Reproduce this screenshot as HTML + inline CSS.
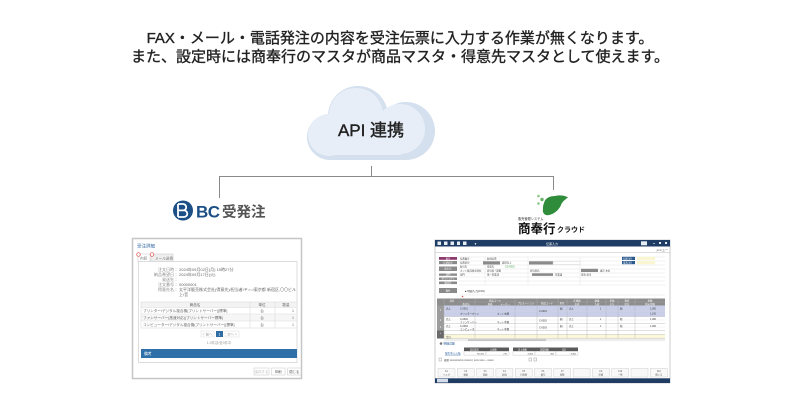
<!DOCTYPE html>
<html><head><meta charset="utf-8">
<style>
html,body{margin:0;padding:0;background:#fff;}
svg{display:block;}
text{font-family:"Liberation Sans","Noto Sans CJK JP",sans-serif;}
</style></head>
<body>
<svg width="790" height="400" viewBox="0 0 790 400" xmlns="http://www.w3.org/2000/svg">
<rect width="790" height="400" fill="#fff"/>

<!-- Title -->
<text x="400" y="43" font-size="15" fill="#222" stroke="#222" stroke-width="0.35" text-anchor="middle">FAX・メール・電話発注の内容を受注伝票に入力する作業が無くなります。</text>
<text x="400" y="61.5" font-size="15" fill="#222" stroke="#222" stroke-width="0.35" text-anchor="middle">また、設定時には商奉行のマスタが商品マスタ・得意先マスタとして使えます。</text>

<!-- Cloud -->
<g fill="#d4e0ee">
<circle cx="330" cy="137" r="23"/><circle cx="358" cy="116" r="30"/><circle cx="406" cy="131" r="29"/><rect x="330" y="128" width="76" height="32"/>
</g>
<g fill="#e7eef7">
<circle cx="329" cy="135" r="21"/><circle cx="356" cy="115" r="27"/><circle cx="400" cy="129" r="25"/><rect x="329" y="122" width="72" height="33"/>
</g>
<text x="371" y="136" font-size="17" fill="#222" stroke="#222" stroke-width="0.4" text-anchor="middle">API 連携</text>

<!-- Connectors -->
<path d="M371.5,166 V176.5 M219.5,176.5 H553.5 M219.5,176 V198 M553.5,176 V190" stroke="#8a8a8a" stroke-width="1" fill="none"/>

<!-- BC logo -->
<circle cx="183" cy="210.5" r="10" fill="#1c4f86"/>
<path d="M178,204 v13 M178,204 h5 a3.2,3.2 0 0 1 0,6.4 h-5 M178,210.4 h6 a3.3,3.3 0 0 1 0,6.6 h-6" stroke="#fff" stroke-width="1.8" fill="none"/>
<text x="196" y="217.5" font-size="17" font-weight="bold" fill="#1c4f86" letter-spacing="-0.5">BC</text>
<text x="222" y="217" font-size="14.5" font-weight="bold" fill="#555">受発注</text>

<!-- Shobugyo logo -->
<circle cx="538.5" cy="196" r="1.3" fill="#8cc48a"/>
<circle cx="542" cy="199.5" r="1.7" fill="#6db36a"/>
<circle cx="538.5" cy="203.5" r="1.3" fill="#8cc48a"/>
<path d="M544,203 C545,198 550,196 555,196 C559,195 564,195 568,197.5 C565,199.5 562,202 561,205 C559,210 554,214 549,215 C545,216 542,213 543,209 C543,207 543,205 544,203 Z" fill="#2f8c3a"/>
<text x="518" y="220" font-size="3.2" fill="#333">販売管理システム</text>
<text x="518" y="233" font-size="12.5" font-weight="bold" fill="#111">商奉行</text>
<text x="557" y="232" font-size="7" font-weight="bold" fill="#111">クラウド</text>

<!-- Left screenshot -->
<rect x="132.5" y="238.5" width="169" height="140" fill="#fff" stroke="#c6c6c6" stroke-width="1.5"/>
<text x="137" y="247.5" font-size="4.5" fill="#3a6ea5">受注詳細</text>
<rect x="151" y="254" width="22" height="8" fill="#eeeeee" stroke="#cfcfcf" stroke-width="0.6"/>
<text x="155" y="259.5" font-size="3.6" fill="#777">メール送信</text>
<rect x="138" y="254" width="12" height="8" fill="#fff" stroke="#cfcfcf" stroke-width="0.6"/>
<text x="140" y="259.5" font-size="3.6" fill="#777">内訳</text>
<circle cx="138.5" cy="254.5" r="1.8" fill="#fff" stroke="#e24a4a" stroke-width="0.7"/>
<circle cx="152" cy="254.5" r="1.8" fill="#fff" stroke="#e24a4a" stroke-width="0.7"/>
<rect x="138.5" y="261.5" width="158.5" height="101" fill="#fff" stroke="#cfcfcf" stroke-width="0.7"/>
<g font-size="4" fill="#888" text-anchor="end">
<text x="178" y="270.8">注文日時：</text>
<text x="178" y="275.8">納品希望日：</text>
<text x="178" y="280.8">発送先：</text>
<text x="178" y="285.8">注文番号：</text>
<text x="178" y="290.8">得意先名：</text>
</g>
<g font-size="4" fill="#666">
<text x="179" y="270.8">2024年09月02日(月) 15時27分</text>
<text x="179" y="275.8">2024年09月17日(火)</text>
<text x="179" y="285.8">00000001</text>
<text x="179" y="290.8">太平洋販売株式会社(得意先)/担当者/〒○○/東京都 新宿区,〇〇ビル</text>
<text x="179" y="295.8">上/音</text>
</g>
<!-- table -->
<rect x="141" y="302" width="156" height="5.5" fill="#f3f3f3"/>
<rect x="141" y="314" width="156" height="7" fill="#f6f6f6"/>
<g stroke="#dcdcdc" stroke-width="0.6" fill="none">
<rect x="141" y="302" width="156" height="26"/>
<path d="M141,307.5 H297 M141,314 H297 M141,321 H297 M250,302 V328 M275,302 V328"/>
</g>
<g font-size="3.6" fill="#666">
<text x="195" y="306" text-anchor="middle">商品名</text>
<text x="262" y="306" text-anchor="middle">単位</text>
<text x="286" y="306" text-anchor="middle">数量</text>
<text x="143" y="312">プリンター/デジタル複合機(プリントサーバー)[標準]</text>
<text x="143" y="319">ファンサーバー(高速対応)(プリントサーバー標準)</text>
<text x="143" y="326">コンピューター/デジタル複合機(プリントサーバー)[標準]</text>
<text x="262" y="312" text-anchor="middle">台</text>
<text x="262" y="319" text-anchor="middle">台</text>
<text x="262" y="326" text-anchor="middle">台</text>
<text x="294" y="312" text-anchor="end">1</text>
<text x="294" y="319" text-anchor="end">1</text>
<text x="294" y="326" text-anchor="end">1</text>
</g>
<!-- pagination -->
<rect x="201" y="331" width="13" height="6" fill="#fff" stroke="#ddd" stroke-width="0.5"/>
<rect x="216" y="331" width="7" height="6" fill="#2e6da4"/>
<rect x="225" y="331" width="14" height="6" fill="#fff" stroke="#ddd" stroke-width="0.5"/>
<g font-size="3.4" fill="#999">
<text x="207.5" y="335.3" text-anchor="middle">&lt; 前へ</text>
<text x="232" y="335.3" text-anchor="middle">次へ &gt;</text>
<text x="219" y="344" text-anchor="middle">1-3件目/全3件中</text>
</g>
<text x="219.5" y="335.3" font-size="3.4" fill="#fff" text-anchor="middle">1</text>
<rect x="141" y="349" width="156" height="9" fill="#2f70a8"/>
<text x="144" y="354.8" font-size="3.8" fill="#fff">備考</text>
<!-- buttons -->
<g fill="#fff" stroke="#cfcfcf" stroke-width="0.6">
<rect x="254" y="368" width="15" height="7"/><rect x="271.5" y="368" width="13.5" height="7"/><rect x="287.5" y="368" width="13.5" height="7"/>
</g>
<g font-size="3.4" text-anchor="middle">
<text x="261.5" y="372.8" fill="#bbb">保存する</text>
<text x="278.2" y="372.8" fill="#555">印刷</text>
<text x="294.2" y="372.8" fill="#555">閉じる</text>
</g>

<!-- Right screenshot -->
<rect x="435" y="240" width="235" height="143" fill="#fff" stroke="#c2c2c2" stroke-width="0.8"/>
<rect x="435" y="240" width="235" height="6.5" fill="#1f3c64"/>
<g fill="#e6ecf4">
<rect x="437.5" y="241.5" width="3.5" height="3.5"/><rect x="444" y="241.5" width="3.5" height="3.5"/><rect x="450.5" y="241.5" width="3.5" height="3.5"/><rect x="457" y="241.5" width="3" height="3.5"/><rect x="463" y="241.5" width="3.5" height="3.5"/>
<rect x="641" y="241.3" width="6" height="4"/>
<rect x="653" y="243" width="2" height="0.6"/><rect x="659" y="242" width="2" height="2"/><rect x="665" y="242" width="2" height="2"/>
</g>
<text x="474" y="245" font-size="3" fill="#fff">▼</text>
<text x="552" y="245" font-size="3" fill="#fff" text-anchor="middle">伝票入力</text>
<text x="668" y="251" font-size="3" fill="#333" text-anchor="end">メニュー</text>
<line x1="435" y1="252.5" x2="670" y2="252.5" stroke="#bdbdbd" stroke-width="0.6"/>

<!-- sidebar buttons -->
<rect x="439" y="257" width="18" height="2.8" fill="#8e3a6e"/>
<g fill="#8a8a8a">
<rect x="439" y="261" width="18" height="3.2"/>
<rect x="439" y="266.5" width="18" height="4.5"/>
<rect x="439" y="273.5" width="18" height="2.3"/>
<rect x="439" y="277.5" width="18" height="2.5"/>
<rect x="439" y="281.5" width="18" height="2.6"/>
<rect x="439" y="288" width="18" height="5"/>
</g>
<g font-size="2.3" fill="#fff" text-anchor="middle">
<text x="448" y="259.3">取引</text><text x="448" y="263.5">伝票区分</text><text x="448" y="269.6">取引先</text><text x="448" y="275.5">部門</text><text x="448" y="279.6">プロジェクト</text><text x="448" y="283.7">納品先</text><text x="448" y="291.3">備考</text>
</g>
<!-- form lines -->
<g stroke="#dedede" stroke-width="0.4">
<path d="M459,257 H665 M459,261 H665 M459,265 H665 M459,269 H665 M459,273 H665 M459,277 H665 M459,281 H665 M459,285 H665 M459,295 H665"/>
<path d="M485,257 V285 M528,257 V285 M580,257 V285"/>
</g>
<g fill="#8a8a8a">
<rect x="483" y="261.3" width="17" height="3.2"/>
<rect x="529" y="261.3" width="24" height="3.2"/>
<rect x="532" y="273.3" width="21" height="2.6"/>
<rect x="581" y="268.8" width="17" height="3.2"/>
</g>
<rect x="553" y="261.3" width="27" height="3.2" fill="#fff" stroke="#ccc" stroke-width="0.4"/>
<rect x="622" y="256.8" width="13" height="3.2" fill="#2c5a8e"/>
<rect x="622" y="261" width="13" height="3.2" fill="#2c5a8e"/>
<rect x="637" y="256.8" width="18" height="3.2" fill="#faf6d2"/>
<rect x="637" y="261" width="18" height="3.2" fill="#faf6d2"/>
<g font-size="2.4" fill="#444">
<text x="460" y="259.6">伝票番号</text><text x="487" y="259.6">新規伝票</text>
<text x="460" y="263.6">伝票区分</text><text x="502" y="263.6">通常売上</text>
<text x="460" y="267.6">取引先</text><text x="487" y="267.6">得意先</text>
<text x="460" y="271.6">ネット販売株式会社</text><text x="487" y="271.6">担当者 / 部署</text><text x="530" y="271.6">担当者名</text>
<text x="460" y="275.6">部門</text><text x="487" y="275.6">第一営業部</text><text x="555" y="275.6">営業課</text><text x="600" y="271.6">東京 本社</text><text x="581" y="275.6">得意 担当</text>
<text x="465" y="292">■ 明細(入力)[1001]</text>
</g>
<text x="505" y="267.6" font-size="2.4" fill="#2f9a3a">CG-0001</text>
<g font-size="2.2" fill="#fff"><text x="623" y="259.3">伝票日付</text><text x="623" y="263.5">請求日付</text></g>
<circle cx="462.5" cy="296.5" r="0.8" fill="#e05050"/>

<!-- grid -->
<rect x="437" y="298.5" width="228" height="7" fill="#8d8d8d"/>
<rect x="444" y="305.5" width="221" height="11" fill="#c9cfe9"/>
<rect x="444" y="316.5" width="221" height="14" fill="#fff"/>
<rect x="444" y="330.5" width="221" height="4" fill="#fff"/>
<rect x="444" y="334.5" width="221" height="4" fill="#fbf8d9"/>
<rect x="437" y="305.5" width="7" height="25" fill="#9c9c9c"/>
<rect x="437" y="330.5" width="7" height="8" fill="#6a6a6a"/>
<g stroke="#b0b0b0" stroke-width="0.4">
<path d="M444,298.5 V338.5 M475,298.5 V338.5 M515,298.5 V338.5 M537,298.5 V338.5 M558,298.5 V338.5 M567,298.5 V338.5 M587,298.5 V338.5 M606,298.5 V338.5 M618,298.5 V338.5 M635,298.5 V338.5"/>
<path d="M444,316.5 H665 M444,323.5 H665 M444,330.5 H665 M444,334.5 H665 M444,338.5 H665"/>
<path d="M458,302 H665" stroke="#a8a8a8"/>
</g>
<g stroke="#dadada" stroke-width="0.3"><path d="M444,311 H665 M444,320 H665 M444,327 H665"/></g>
<g font-size="2.4" fill="#fff" text-anchor="middle">
<text x="452" y="301.5">品目</text><text x="495" y="301.5">商品コード</text><text x="526" y="304">プロモーション</text><text x="547" y="304">商品コード</text><text x="562" y="304">単位</text><text x="577" y="301.5">在庫数</text><text x="597" y="301.5">数量</text><text x="612" y="301.5">単価</text><text x="627" y="301.5">税区</text><text x="650" y="301.5">金額</text>
<text x="466" y="304.8">商品名</text><text x="490" y="304.8">規格</text><text x="505" y="304.8">メーカー</text><text x="577" y="304.8">出荷</text><text x="597" y="304.8">入荷</text><text x="612" y="304.8">小計</text><text x="627" y="304.8">区分</text><text x="650" y="304.8">税込金額</text>
<text x="440.5" y="311">1</text><text x="440.5" y="321">2</text><text x="440.5" y="328">3</text><text x="440.5" y="334">+</text>
</g>
<g font-size="2.4" fill="#333">
<text x="446" y="309.5">売上</text><text x="460" y="309.5">C-0001</text><text x="460" y="314.5">プリンタープリン</text><text x="497" y="314.5">ネット本郷</text><text x="539" y="312">C-0001</text><text x="560" y="309.5">個</text><text x="569" y="309.5">売上</text><text x="600" y="309.5">1</text><text x="620" y="309.5">税</text><text x="650" y="309.5">1,000</text><text x="650" y="314.5">1,100</text>
<text x="446" y="320">売上</text><text x="460" y="320">C-0002</text><text x="460" y="323">ファンサーバー</text><text x="497" y="323">ネット本郷</text><text x="539" y="321.5">C-0002</text><text x="560" y="320">個</text><text x="569" y="320">売上</text><text x="600" y="320">1</text><text x="620" y="320">税</text><text x="650" y="320">1,000</text>
<text x="446" y="327">売上</text><text x="460" y="327">C-0003</text><text x="460" y="330">コンピュータ</text><text x="497" y="330">ネット本郷</text><text x="539" y="328.5">C-0003</text><text x="560" y="327">個</text><text x="569" y="327">売上</text><text x="600" y="327">1</text><text x="620" y="327">税</text><text x="650" y="327">1,000</text>
<text x="446" y="337.8">合計</text>
</g>
<rect x="444" y="339" width="221" height="2.2" fill="#eeeeee"/>
<rect x="468" y="339.2" width="78" height="1.8" fill="#c4c4c4"/>

<!-- detail -->
<circle cx="441" cy="343.5" r="1.3" fill="#777"/>
<text x="443.5" y="344.5" font-size="2.8" fill="#2a5f9e">明細詳細</text>
<rect x="464" y="347.5" width="45" height="3.8" fill="#5a5a5a"/>
<rect x="513" y="347.5" width="65" height="3.8" fill="#5a5a5a"/>
<g fill="#fff" stroke="#bbb" stroke-width="0.4">
<rect x="464" y="351.3" width="22" height="3.8"/><rect x="486" y="351.3" width="23" height="3.8"/>
<rect x="513" y="351.3" width="22" height="3.8"/><rect x="535" y="351.3" width="21" height="3.8"/><rect x="556" y="351.3" width="22" height="3.8"/>
</g>
<g font-size="2.2" fill="#fff"><text x="470" y="350.3">前回請求</text><text x="490" y="350.3">入金額</text><text x="518" y="350.3">売上金額</text><text x="540" y="350.3">消費税額</text><text x="562" y="350.3">合計</text></g>
<g font-size="2.2" fill="#333" text-anchor="end"><text x="484" y="354.3">80,700</text><text x="507" y="354.3">270</text><text x="533" y="354.3">3,000</text><text x="554" y="354.3">300</text><text x="576" y="354.3">3,300</text></g>
<text x="445" y="354.3" font-size="2.6" fill="#2a5f9e" text-decoration="underline">取引先元元帳</text>
<rect x="439" y="358" width="2.5" height="3" fill="none" stroke="#888" stroke-width="0.4"/>
<text x="444" y="360.8" font-size="2.5" fill="#444">摘要 xxxxxx/xx/xx xxxxxx | xxxx xxxx ~ xxxxx</text>
<rect x="529" y="358" width="2.5" height="3" fill="none" stroke="#888" stroke-width="0.4"/>
<rect x="534" y="358" width="2.5" height="3" fill="none" stroke="#888" stroke-width="0.4"/>

<!-- function keys -->
<g fill="#f8f8f8" stroke="#c4c4c4" stroke-width="0.4">
<rect x="438" y="368.5" width="17" height="8.5"/><rect x="457.3" y="368.5" width="17" height="8.5"/><rect x="476.6" y="368.5" width="17" height="8.5"/><rect x="495.9" y="368.5" width="17" height="8.5"/><rect x="515.2" y="368.5" width="17" height="8.5"/><rect x="534.5" y="368.5" width="17" height="8.5"/><rect x="553.8" y="368.5" width="17" height="8.5"/><rect x="573.1" y="368.5" width="17" height="8.5"/><rect x="592.4" y="368.5" width="17" height="8.5"/><rect x="611.7" y="368.5" width="17" height="8.5"/><rect x="631" y="368.5" width="17" height="8.5"/><rect x="650.3" y="368.5" width="17" height="8.5"/>
</g>
<g font-size="2.3" fill="#555" text-anchor="middle">
<text x="446.5" y="372">F1</text><text x="446.5" y="375.5">ヘルプ</text>
<text x="465.8" y="372">F2</text><text x="465.8" y="375.5">検索</text>
<text x="485.1" y="372">F3</text><text x="485.1" y="375.5">登録</text>
<text x="504.4" y="372">F4</text><text x="504.4" y="375.5">新規</text>
<text x="523.7" y="372">F5</text><text x="523.7" y="375.5">行削除</text>
<text x="543" y="372">F6</text><text x="543" y="375.5">複写</text>
<text x="562.3" y="372">F7</text><text x="562.3" y="375.5">削除</text>
<text x="600.9" y="372">F9</text><text x="600.9" y="375.5">印刷</text>
<text x="620.2" y="372">F10</text><text x="620.2" y="375.5">一覧</text>
<text x="658.8" y="372">F12</text><text x="658.8" y="375.5">閉じる</text>
</g>
<rect x="435" y="378.3" width="235" height="4.7" fill="#1f3c64"/>
<rect x="437" y="378.8" width="11" height="3.6" fill="#d2dcea"/>
</svg>
</body></html>
